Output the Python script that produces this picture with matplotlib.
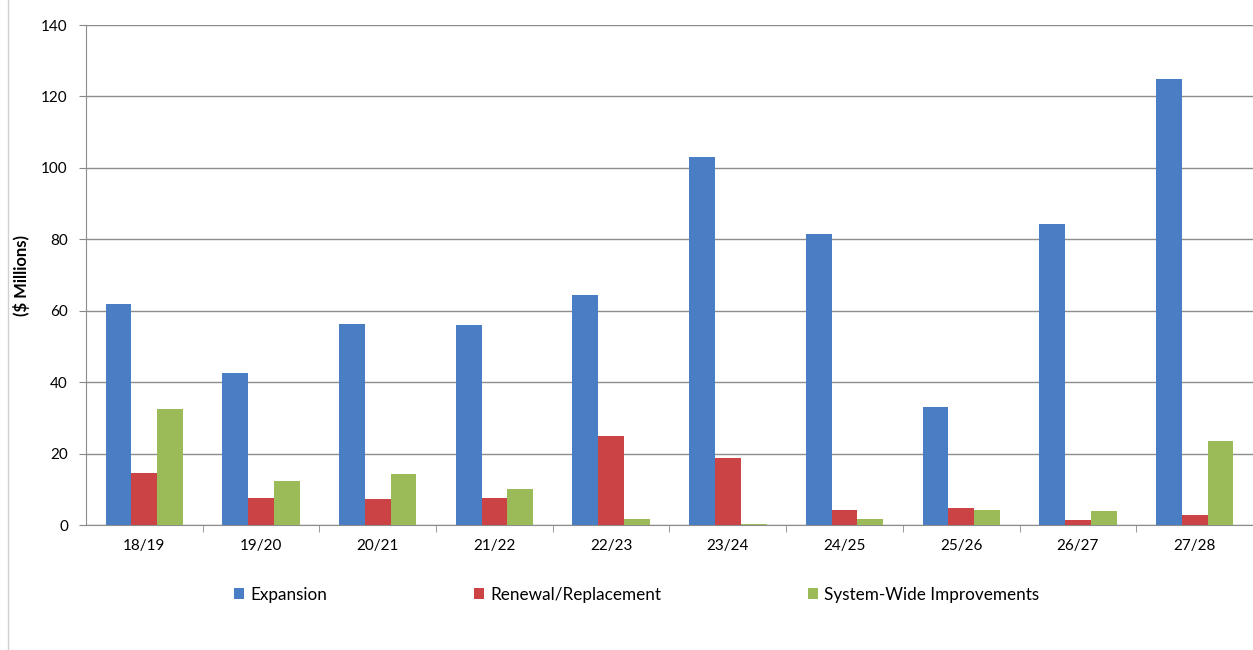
import numpy as np
import matplotlib
matplotlib.use('Agg')
import matplotlib.pyplot as plt
from matplotlib.lines import Line2D

# Fiscal years and capital spending by program ($ millions)
years = ['18/19', '19/20', '20/21', '21/22', '22/23',
         '23/24', '24/25', '25/26', '26/27', '27/28']
expansion = [62.0, 42.6, 56.3, 56.0, 64.5, 103.0, 81.6, 33.1, 84.2, 124.8]
renewal = [14.5, 7.7, 7.2, 7.5, 24.9, 18.8, 4.1, 4.9, 1.5, 2.8]
system_wide = [32.6, 12.3, 14.3, 10.1, 1.8, 0.3, 1.8, 4.3, 3.9, 23.4]

series_names = ['Expansion', 'Renewal/Replacement', 'System-Wide Improvements']
colors = ['#4A7EC4', '#CC4346', '#9BBB59']

plt.rcParams['font.family'] = ['Lato', 'DejaVu Sans']

fig = plt.figure(figsize=(12.53, 6.5), dpi=100)
ax = fig.add_axes([0.0686, 0.1923, 0.9314, 0.7692])

x = np.arange(len(years))
width = 0.221
for i, (vals, name, col) in enumerate(zip([expansion, renewal, system_wide],
                                          series_names, colors)):
    ax.bar(x + (i - 1) * width, vals, width=width, color=col, label=name,
           zorder=3)

ax.set_xlim(-0.5, len(years) - 0.5)
ax.set_ylim(0, 140)
ax.set_yticks(np.arange(0, 141, 20))
ax.set_xticks(x)
ax.set_xticklabels(years)
# tick marks sit between the year groups
ax.set_xticks(np.arange(0.5, len(years) - 0.5, 1), minor=True)
ax.tick_params(axis='x', which='major', length=0, pad=10, labelsize=11)
ax.tick_params(axis='x', which='minor', length=5, color='#888888')
ax.tick_params(axis='y', length=5, color='#888888', pad=8, labelsize=11)

ax.grid(axis='y', color='#8c8c8c', linewidth=1, zorder=0)
for side in ['top', 'right']:
    ax.spines[side].set_visible(False)
for side in ['left', 'bottom']:
    ax.spines[side].set_color('#8c8c8c')

ax.set_ylabel('($ Millions)', fontsize=12, fontweight='bold', labelpad=8)

fig.legend(loc='center', bbox_to_anchor=(0.508, 0.085), ncol=3, frameon=False,
           fontsize=12.3, handlelength=0.6, handleheight=0.6,
           handletextpad=0.35, columnspacing=8.6)

# outer chart border on the left
fig.add_artist(Line2D([0.0064, 0.0064], [0.0, 1.0], color='#d0d0d0',
                      linewidth=1))

fig.savefig('out.png', dpi=100)
